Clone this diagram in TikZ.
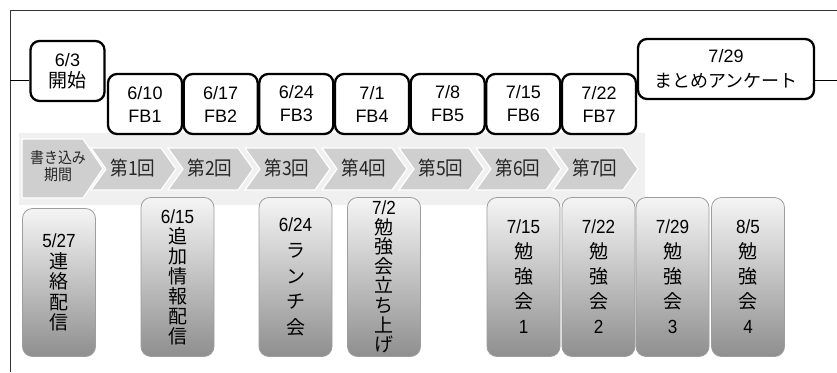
\documentclass[tikz,border=0pt]{standalone}
\usepackage{fontspec}
\setmainfont{Liberation Sans}
\newfontfamily\jfont{Noto Sans CJK JP}
\newfontfamily\nfont[FakeStretch=0.9]{Liberation Sans}
\newfontfamily\cjfont[FakeStretch=0.9]{Noto Sans CJK JP}
\begin{document}
\begin{tikzpicture}[x=1pt,y=-1pt,
  topbox/.style={draw=black, line width=2.3pt, rounded corners=9pt, fill=white,
    minimum width=74pt, minimum height=60pt, inner sep=0pt, align=center,
    font=\fontsize{18}{23}\selectfont},
  botbox/.style={draw=black!38, line width=0.8pt, rounded corners=10pt,
    top color=black!4, bottom color=black!44, minimum width=73pt, inner sep=0pt,
    align=center},
  chev/.style={fill=black!19, draw=white, line width=1.2pt},
  chevtext/.style={font=\cjfont\fontsize{19.5}{19.5}\selectfont, text=black!85},
  frameline/.style={draw=black!80, line width=0.9pt},
  tline/.style={draw=black, line width=0.9pt}]
\fill[white] (0,0) rectangle (837,372);
\useasboundingbox (0,0) rectangle (837,372);
% frame
\draw[frameline] (10,372) -- (10,10) -- (837,10);
% chevron band
\fill[black!6] (19,133) rectangle (645,205);
\draw[chev] (22,139) -- (83,139) -- (103,168.5) -- (83,198) -- (22,198) -- cycle;
\node[chevtext, font=\cjfont\fontsize{15.5}{17}\selectfont, align=center] (c0) at (58,166.5) {書き込み\\期間};
\foreach \k/\t in {1/第1回,2/第2回,3/第3回,4/第4回,5/第5回,6/第6回,7/第7回}{
  \pgfmathsetmacro{\L}{91+77*(\k-1)}
  \draw[chev] (\L,148) -- (\L+70,148) -- (\L+85,169) -- (\L+70,190) -- (\L,190) -- (\L+15,169) -- cycle;
  \node[chevtext] (c\k) at (\L+42,168) {\t};
}
% top boxes
\node[topbox, font=\fontsize{18}{21}\selectfont] (start) at (67.5,71) {6/3\\{\jfont\fontsize{19}{21}\selectfont 開始}};
\node[topbox] (fb1) at (145,104) {6/10\\FB1};
\node[topbox] (fb2) at (220.7,104) {6/17\\FB2};
\node[topbox] (fb3) at (296.3,104) {6/24\\FB3};
\node[topbox] (fb4) at (372,104) {7/1\\FB4};
\node[topbox] (fb5) at (447.7,104) {7/8\\FB5};
\node[topbox] (fb6) at (523.3,104) {7/15\\FB6};
\node[topbox] (fb7) at (599,104) {7/22\\FB7};
\node[topbox, minimum width=176pt, font=\fontsize{18}{25}\selectfont] (matome) at (726,69) {7/29\\{\jfont\fontsize{18}{25}\selectfont まとめアンケート}};
% timeline
\coordinate (tl) at (10,80);
\coordinate (tr) at (837,80);
\draw[tline] (tl) -- (tl -| start.west);
\draw[tline] (matome.east |- tr) -- (tr);
% bottom boxes
\node[botbox, minimum height=148pt, font=\nfont\fontsize{19}{20.5}\selectfont] (b1) at (59,282.5)
  {5/27\\{\jfont 連}\\{\jfont 絡}\\{\jfont 配}\\{\jfont 信}};
\node[botbox, minimum height=159pt, font=\nfont\fontsize{19}{20}\selectfont] (b2) at (177.5,277)
  {6/15\\{\jfont 追}\\{\jfont 加}\\{\jfont 情}\\{\jfont 報}\\{\jfont 配}\\{\jfont 信}};
\node[botbox, minimum height=159pt, font=\nfont\fontsize{19}{25.8}\selectfont] (b3) at (295.5,277)
  {6/24\\{\jfont ラ}\\{\jfont ン}\\{\jfont チ}\\{\jfont 会}};
\node[botbox, minimum height=159pt, font=\nfont\fontsize{19}{19.6}\selectfont] (b4) at (384,277)
  {7/2\\{\jfont 勉}\\{\jfont 強}\\{\jfont 会}\\{\jfont 立}\\{\jfont ち}\\{\jfont 上}\\{\jfont げ}};
\node[botbox, minimum height=159pt, font=\nfont\fontsize{19}{25}\selectfont] (b5) at (523.5,277)
  {7/15\\{\jfont 勉}\\{\jfont 強}\\{\jfont 会}\\1};
\node[botbox, minimum height=159pt, font=\nfont\fontsize{19}{25}\selectfont] (b6) at (598.5,277)
  {7/22\\{\jfont 勉}\\{\jfont 強}\\{\jfont 会}\\2};
\node[botbox, minimum height=159pt, font=\nfont\fontsize{19}{25}\selectfont] (b7) at (672.5,277)
  {7/29\\{\jfont 勉}\\{\jfont 強}\\{\jfont 会}\\3};
\node[botbox, minimum height=159pt, font=\nfont\fontsize{19}{25}\selectfont] (b8) at (748,277)
  {8/5\\{\jfont 勉}\\{\jfont 強}\\{\jfont 会}\\4};
\end{tikzpicture}
\end{document}
